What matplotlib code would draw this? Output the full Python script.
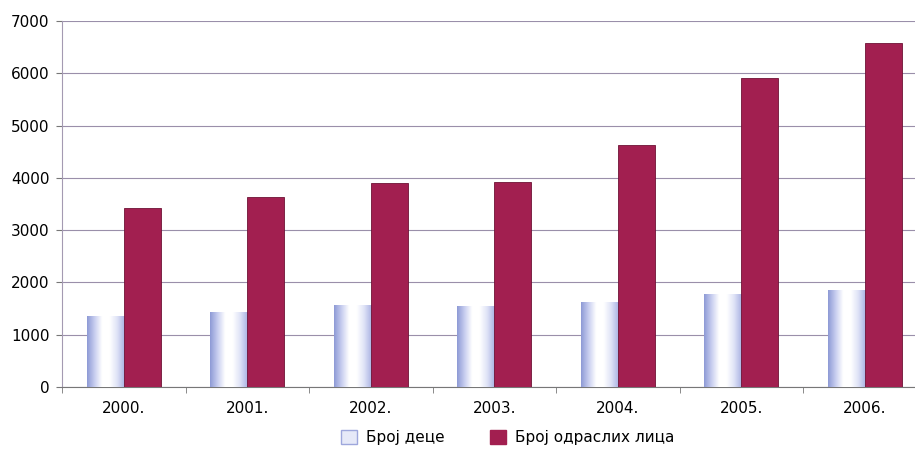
import numpy as np
import matplotlib
matplotlib.use("Agg")
import matplotlib.pyplot as plt
from matplotlib.colors import LinearSegmentedColormap
from matplotlib.patches import Patch

years = ["2000.", "2001.", "2002.", "2003.", "2004.", "2005.", "2006."]
children = [1360, 1440, 1570, 1550, 1625, 1775, 1860]
adults = [3430, 3630, 3900, 3920, 4630, 5920, 6575]

label_children = "Број деце"
label_adults = "Број одраслих лица"

CRIMSON = "#a21f50"
GRID = "#9a8faa"

plt.rcParams["font.family"] = ["DejaVu Sans"]

fig = plt.figure(figsize=(9.15, 4.49), dpi=100)
ax = fig.add_axes([0.0678, 0.138, 0.945, 0.815])

x = np.arange(len(years))
w = 0.3

# children bars: blue edges fading to white in the middle
grad = LinearSegmentedColormap.from_list(
    "kids", ["#8f9bd6", "#c9cff0", "#ffffff", "#ffffff", "#dfe3f7", "#aab3e3"])
kid_bars = ax.bar(x - w / 2, children, w, color="none", edgecolor="none", zorder=3)
ramp = np.linspace(0, 1, 64).reshape(1, -1)
for b in kid_bars:
    x0, y0 = b.get_x(), b.get_y()
    im = ax.imshow(ramp, cmap=grad, aspect="auto", zorder=3,
                   extent=(x0, x0 + b.get_width(), y0, y0 + b.get_height()))
    im.set_clip_path(b)

ax.bar(x + w / 2, adults, w, color=CRIMSON, edgecolor="#6e1235", linewidth=0.6, zorder=3)

ax.set_xlim(-0.5, len(years) - 0.5)
ax.set_ylim(0, 7000)
ax.set_yticks(range(0, 7001, 1000))
ax.yaxis.grid(True, color=GRID, linewidth=0.8)
ax.set_axisbelow(True)

ax.set_xticks(x)
ax.set_xticklabels(years, fontsize=11)
ax.tick_params(axis="x", length=0, pad=10)
ax.set_xticks(np.arange(-0.5, len(years), 1), minor=True)
ax.tick_params(axis="x", which="minor", length=4, color="#777777")
ax.tick_params(axis="y", labelsize=11, length=4, color="#777777", pad=5)

for s in ["top", "right"]:
    ax.spines[s].set_visible(False)
ax.spines["left"].set_color("#a49ab2")
ax.spines["bottom"].set_color("#777777")

handles = [Patch(facecolor="#e6e9f8", edgecolor="#9ea7dc", linewidth=1.0),
           Patch(facecolor=CRIMSON, edgecolor=CRIMSON)]
fig.legend(handles, [label_children, label_adults], loc="center",
           bbox_to_anchor=(0.555, 0.025), ncol=2, frameon=False, fontsize=11,
           handlelength=1.0, handleheight=1.0, columnspacing=3.0, handletextpad=0.6)

fig.savefig("out.png", dpi=100)
